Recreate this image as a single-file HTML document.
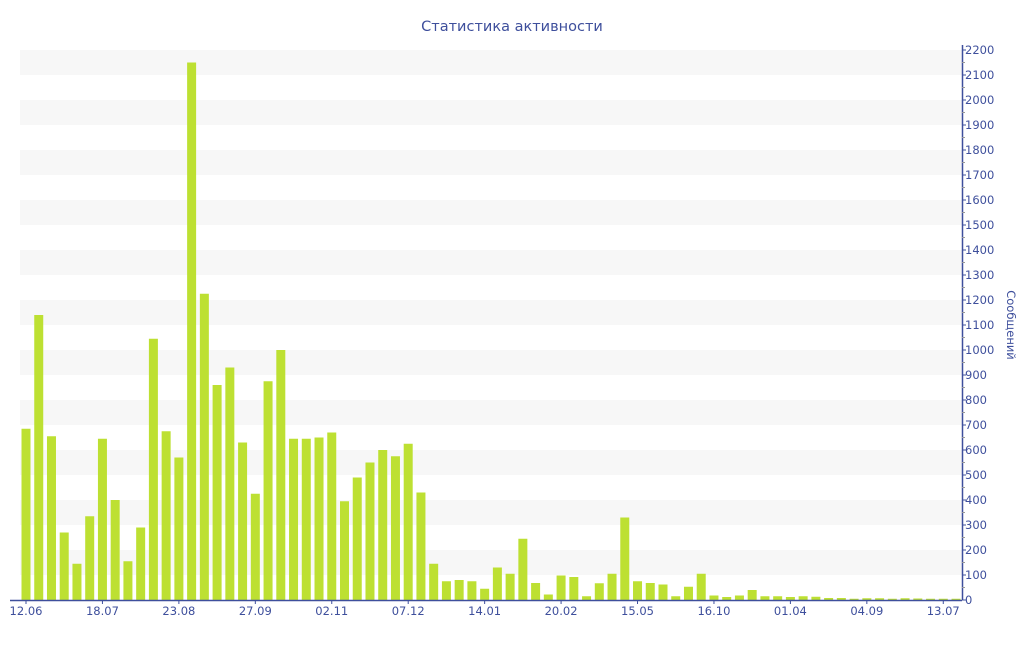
<!DOCTYPE html>
<html><head><meta charset="utf-8"><style>
html,body{margin:0;padding:0;background:#fff;}
svg text{font-family:"DejaVu Sans","Liberation Sans",sans-serif;fill:#3e4f9c;}
</style></head><body>
<svg id="chart" width="1024" height="640" xmlns="http://www.w3.org/2000/svg">
<text x="512" y="31" font-size="14.5" text-anchor="middle">Статистика активности</text>
<g id="bands"></g><g id="bars"></g><g id="axes"></g>
<text transform="translate(1007,325) rotate(90)" font-size="11.5" text-anchor="middle">Сообщений</text>
</svg>
<script>
const values=[685,1140,655,270,145,335,645,400,155,290,1045,675,570,2150,1225,860,930,630,425,875,1000,645,645,650,670,395,490,550,600,575,625,430,
145,75,80,75,45,130,105,245,68,22,98,92,15,67,105,330,75,68,62,15,53,105,18,12,18,40,15,15,12,15,13,8,8,5,7,7,5,7,6,5,5,5];
const xTickLabels=["12.06","18.07","23.08","27.09","02.11","07.12","14.01","20.02","15.05","16.10","01.04","04.09","13.07"];
const xTickIndex=[0,6,12,18,24,30,36,42,48,54,60,66,72];
const yTicks=[0,100,200,300,400,500,600,700,800,900,1000,1100,1200,1300,1400,1500,1600,1700,1800,1900,2000,2100,2200];
const NS="http://www.w3.org/2000/svg";
const L=20,R=962,T=50,B=600,yMax=2200;
const y=v=>B-(v/yMax)*(B-T);
const x=i=>26+i*12.74;
function mk(t,a,p){const e=document.createElementNS(NS,t);for(const k in a)e.setAttribute(k,a[k]);p.appendChild(e);return e;}
const bands=document.getElementById('bands'),bars=document.getElementById('bars'),axes=document.getElementById('axes');
for(let v=100;v<yMax;v+=200){const r=mk('rect',{x:L,y:y(v+100),width:R-L,height:y(v)-y(v+100),fill:'#f7f7f7'},bands);

}
values.forEach((v,i)=>{const r=mk('rect',{x:x(i)-4.5,y:y(v),width:9,height:B-y(v),fill:'#bde032'},bars);

});
mk('line',{x1:L-10,y1:B+0.5,x2:R,y2:B+0.5,stroke:'#3e4f9c','stroke-width':1.5},axes);
mk('line',{x1:R+0.5,y1:T-5,x2:R+0.5,y2:B,stroke:'#3e4f9c','stroke-width':1.5},axes);
yTicks.forEach(v=>{mk('line',{x1:R,y1:y(v),x2:R+4,y2:y(v),stroke:'#3e4f9c'},axes);
if(v<yMax)mk('line',{x1:R,y1:y(v+50),x2:R+3,y2:y(v+50),stroke:'#999'},axes);
const t=mk('text',{x:R+3,y:y(v)+4,'font-size':11.5},axes);t.textContent=v;

});
xTickLabels.forEach((lab,k)=>{const xi=x(xTickIndex[k]);
mk('line',{x1:xi,y1:B,x2:xi,y2:B+4,stroke:'#3e4f9c'},axes);
const t=mk('text',{x:xi,y:B+15,'font-size':11.5,'text-anchor':'middle'},axes);t.textContent=lab;

});
</script>
</body></html>
